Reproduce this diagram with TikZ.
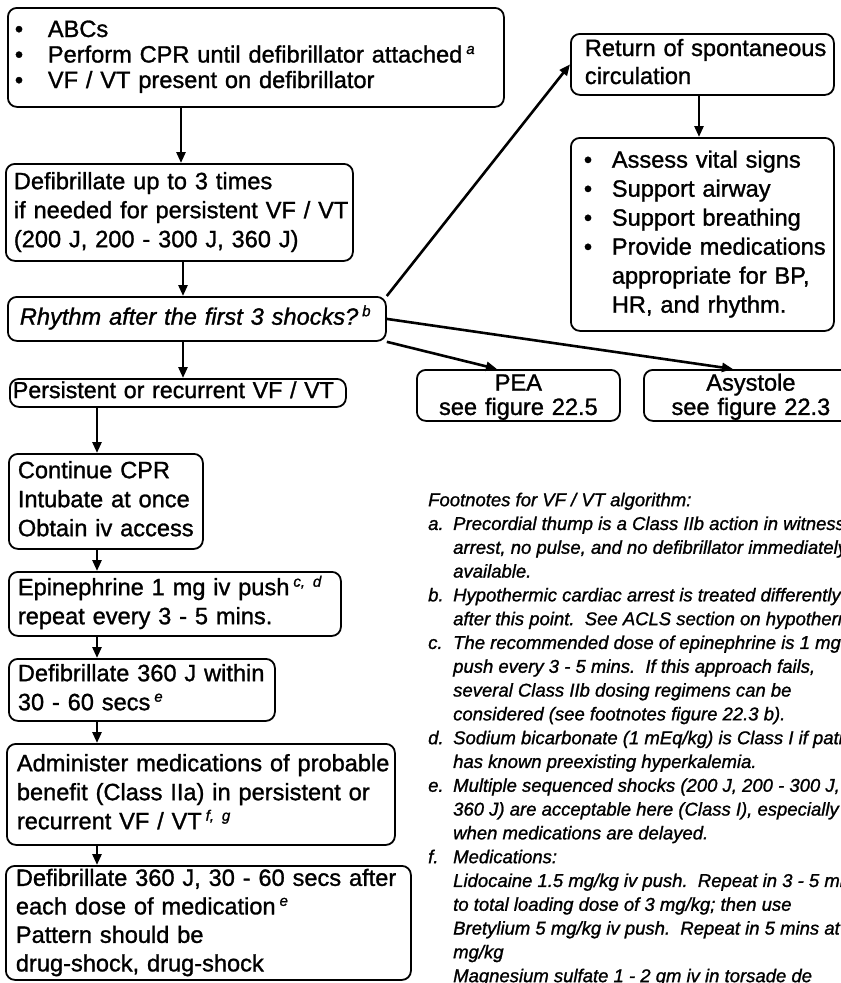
\documentclass[tikz,border=0pt]{standalone}
\usepackage{fontspec}
\setmainfont{Liberation Sans}[UprightFeatures={FakeBold=1.2}, ItalicFeatures={FakeBold=1.2}]
\usetikzlibrary{arrows.meta}

% small raised italic footnote mark
\newcommand{\fnmark}[1]{\raisebox{8.5pt}{\fontsize{15}{15}\selectfont\itshape #1}}
% lines of a box, never broken
\newcommand{\boxlines}[1]{\begin{tabular}{@{}l@{}}#1\end{tabular}}
\newcommand{\boxlinesc}[1]{\begin{tabular}{@{}c@{}}#1\end{tabular}}
\newcommand{\bul}[1]{\makebox[#1][l]{\textbullet}}

\begin{document}
\begin{tikzpicture}[
  x=1pt, y=-1pt,
  flowbox/.style={draw, line width=1.8pt, rounded corners=9pt, anchor=north west,
                  align=left, inner ysep=0pt, font=\fontsize{23.6}{29}\selectfont},
  arr/.style={line width=2.6pt, -{Triangle[length=11pt,width=9pt]}},
  note/.style={anchor=north west, inner sep=0pt, align=left,
               font=\fontsize{18.5}{23.8}\selectfont\itshape},
]
\useasboundingbox (0,0) rectangle (841,983);
\clip (0,0) rectangle (841,983);

% ---------- main column ----------
\node[flowbox, inner xsep=7pt, text width=482pt, minimum height=99pt,
      font=\fontsize{23.6}{25.5}\selectfont] (start) at (7,7)
  {\boxlines{\bul{33pt}ABCs\\
             \bul{33pt}Perform CPR until defibrillator attached\,\fnmark{a}\\
             \bul{33pt}VF / VT present on defibrillator}};

\node[flowbox, inner xsep=8pt, text width=331pt, minimum height=97pt] (defib3) at (5,163)
  {\boxlines{Defibrillate up to 3 times\\
             if needed for persistent VF / VT\\
             (200 J, 200 - 300 J, 360 J)}};

\node[flowbox, inner xsep=12pt, text width=354pt, minimum height=44pt,
      font=\fontsize{23.6}{29}\selectfont\itshape] (rhythm) at (7,296)
  {\boxlines{Rhythm after the first 3 shocks?\,\fnmark{b}}};

\node[flowbox, inner xsep=3pt, text width=330pt, minimum height=28pt,
      font=\fontsize{23.2}{26}\selectfont] (persist) at (9,378)
  {\boxlines{Persistent or recurrent VF / VT}};

\node[flowbox, inner xsep=9pt, text width=176pt, minimum height=95pt] (cpr) at (8,453)
  {\boxlines{Continue CPR\\ Intubate at once\\ Obtain iv access}};

\node[flowbox, inner xsep=9pt, text width=314pt, minimum height=64pt] (epi) at (8,571)
  {\boxlines{Epinephrine 1 mg iv push\,\fnmark{c, d}\\ repeat every 3 - 5 mins.}};

\node[flowbox, inner xsep=9pt, text width=248pt, minimum height=62pt] (defib360) at (8,658)
  {\boxlines{Defibrillate 360 J within\\ 30 - 60 secs\,\fnmark{e}}};

\node[flowbox, inner xsep=10pt, text width=368pt, minimum height=101pt] (meds) at (6,743)
  {\boxlines{Administer medications of probable\\
             benefit (Class IIa) in persistent or\\
             recurrent VF / VT\,\fnmark{f, g}}};

\node[flowbox, inner xsep=10pt, text width=385pt, minimum height=113pt,
      font=\fontsize{23.6}{28.5}\selectfont] (pattern) at (5,865)
  {\boxlines{Defibrillate 360 J, 30 - 60 secs after\\
             each dose of medication\,\fnmark{e}\\
             Pattern should be\\
             drug-shock, drug-shock}};

% ---------- right branch ----------
\node[flowbox, inner xsep=14pt, text width=235pt, minimum height=61pt,
      font=\fontsize{23.6}{28}\selectfont] (rosc) at (570,33)
  {\boxlines{Return of spontaneous\\ circulation}};

\node[flowbox, inner xsep=13pt, text width=237pt, minimum height=193pt] (care) at (570,137)
  {\boxlines{\bul{28pt}Assess vital signs\\
             \bul{28pt}Support airway\\
             \bul{28pt}Support breathing\\
             \bul{28pt}Provide medications\\
             \hspace*{28pt}appropriate for BP,\\
             \hspace*{28pt}HR, and rhythm.}};

\node[flowbox, align=center, inner xsep=0pt, inner ysep=-2pt, text width=203pt,
      minimum height=51pt, font=\fontsize{23.6}{24}\selectfont] (pea) at (416,369)
  {\boxlinesc{\rule{0pt}{22pt}PEA\\ see figure 22.5}};

\node[flowbox, align=center, inner xsep=0pt, inner ysep=-2pt, text width=214pt,
      minimum height=51pt, font=\fontsize{23.6}{24}\selectfont] (asys) at (643,369)
  {\boxlinesc{\rule{0pt}{22pt}Asystole\\ see figure 22.3}};

% ---------- connectors ----------
\coordinate (colA) at (181,0);
\coordinate (colB) at (183,0);
\coordinate (colC) at (97,0);
\coordinate (colR) at (699,0);
\coordinate (toPea) at (497,0);
\coordinate (toAsys) at (733,0);

\draw[arr] (start.south -| colA) -- (defib3.north -| colA);
\draw[arr] (defib3.south -| colB) -- (rhythm.north -| colB);
\draw[arr] (rhythm.south -| colB) -- (persist.north -| colB);
\draw[arr] (persist.south -| colC) -- (cpr.north -| colC);
\draw[arr] (cpr.south -| colC) -- (epi.north -| colC);
\draw[arr] (epi.south -| colC) -- (defib360.north -| colC);
\draw[arr] (defib360.south -| colC) -- (meds.north -| colC);
\draw[arr] (meds.south -| colC) -- (pattern.north -| colC);

\draw[arr] (rhythm.north east) -- (rosc.west);
\draw[arr] (rosc.south -| colR) -- (care.north -| colR);
\draw[arr] (rhythm.east) -- (asys.north -| toAsys);
\draw[arr] (rhythm.south east) -- (pea.north -| toPea);

% ---------- footnotes ----------
\node[note] (notes) at (428,489.3)
  {\boxlines{Footnotes for VF / VT algorithm:\\
   \makebox[25pt][l]{a.}Precordial thump is a Class IIb action in witnessed\\
   \hspace*{25pt}arrest, no pulse, and no defibrillator immediately\\
   \hspace*{25pt}available.\\
   \makebox[25pt][l]{b.}Hypothermic cardiac arrest is treated differently\\
   \hspace*{25pt}after this point.\ \ See ACLS section on hypothermia.\\
   \makebox[25pt][l]{c.}The recommended dose of epinephrine is 1 mg iv\\
   \hspace*{25pt}push every 3 - 5 mins.\ \ If this approach fails,\\
   \hspace*{25pt}several Class IIb dosing regimens can be\\
   \hspace*{25pt}considered (see footnotes figure 22.3 b).\\
   \makebox[25pt][l]{d.}Sodium bicarbonate (1 mEq/kg) is Class I if patient\\
   \hspace*{25pt}has known preexisting hyperkalemia.\\
   \makebox[25pt][l]{e.}Multiple sequenced shocks (200 J, 200 - 300 J,\\
   \hspace*{25pt}360 J) are acceptable here (Class I), especially\\
   \hspace*{25pt}when medications are delayed.\\
   \makebox[25pt][l]{f.}Medications:\\
   \hspace*{25pt}Lidocaine 1.5 mg/kg iv push.\ \ Repeat in 3 - 5 mins\\
   \hspace*{25pt}to total loading dose of 3 mg/kg; then use\\
   \hspace*{25pt}Bretylium 5 mg/kg iv push.\ \ Repeat in 5 mins at 10\\
   \hspace*{25pt}mg/kg\\
   \hspace*{25pt}Magnesium sulfate 1 - 2 gm iv in torsade de}};
\end{tikzpicture}
\end{document}
